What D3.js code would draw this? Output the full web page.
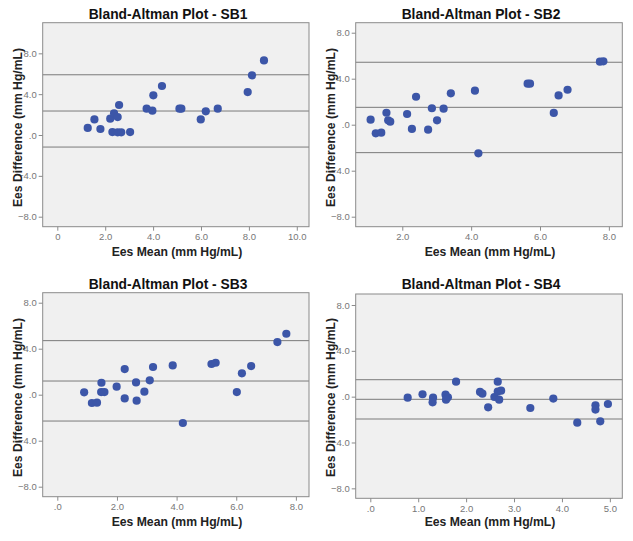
<!DOCTYPE html>
<html><head><meta charset="utf-8">
<script src="https://cdn.jsdelivr.net/npm/d3@7"></script>
<style>body{margin:0;background:#fff}svg{display:block}</style>
</head><body>
<svg id="c" width="633" height="541"></svg>
<script>
// ---- data ----
const titles = ["Bland-Altman Plot - SB1","Bland-Altman Plot - SB2","Bland-Altman Plot - SB3","Bland-Altman Plot - SB4"];
const sb1Mean = [1.27,1.55,1.80,2.30,2.21,2.37,2.52,2.58,2.52,2.67,3.04,3.73,3.97,4.01,4.37,5.10,5.18,5.99,6.20,6.70,7.95,8.13,8.63];
const sb1Diff = [0.69,1.53,0.59,0.29,1.60,2.12,1.76,2.94,0.26,0.26,0.29,2.58,2.38,3.89,4.80,2.58,2.58,1.53,2.32,2.58,4.21,5.85,7.31];
const sb2Mean = [1.08,1.23,1.39,1.54,1.59,1.65,2.14,2.28,2.40,2.75,2.86,3.01,3.20,3.41,4.11,4.21,5.64,5.71,6.40,6.54,6.80,7.74,7.84];
const sb2Diff = [0.44,-0.75,-0.69,1.04,0.38,0.26,0.93,-0.37,2.43,-0.43,1.43,0.38,1.39,2.73,2.96,-2.49,3.57,3.57,1.02,2.55,3.04,5.48,5.51];
const sb3Mean = [0.90,1.16,1.33,1.48,1.47,1.58,1.99,2.26,2.26,2.64,2.66,2.92,3.10,3.21,3.87,4.21,5.17,5.31,6.02,6.19,6.50,7.38,7.68];
const sb3Diff = [0.21,-0.72,-0.69,1.04,0.23,0.23,0.70,2.23,-0.32,1.07,-0.52,0.26,1.25,2.41,2.55,-2.46,2.67,2.78,0.23,1.86,2.49,4.58,5.30];
const sb4Mean = [0.78,1.09,1.31,1.30,1.57,1.62,1.58,1.79,2.29,2.34,2.46,2.59,2.66,2.66,2.73,2.69,3.34,3.82,4.32,4.70,4.70,4.80,4.96];
const sb4Diff = [-0.09,0.21,-0.09,-0.49,0.17,-0.06,-0.26,1.31,0.41,0.26,-0.93,-0.03,1.31,0.44,0.52,-0.26,-0.99,-0.17,-2.27,-0.75,-1.13,-2.15,-0.64];
// bias and limits of agreement: [lower, mean, upper]
const sb1Lines = [-1.18, 2.35, 5.90];
const sb2Lines = [-2.43, 1.51, 5.43];
const sb3Lines = [-2.29, 1.19, 4.70];
const sb4Lines = [-1.95, -0.23, 1.48];
const sb1XTicks = [0,2,4,6,8,10];
const sb2XTicks = [2,4,6,8];
const sb3XTicks = [0,2,4,6,8];
const sb4XTicks = [0,1,2,3,4,5];
const yTicks = [-8,-4,0,4,8];
const xLabel = "Ees Mean (mm Hg/mL)";
const yLabel = "Ees Difference (mm Hg/mL)";

// ---- layout ----
const panels = [
  {mean:sb1Mean, diff:sb1Diff, lines:sb1Lines, xt:sb1XTicks, zeroLbl:"0",
   L:42.7,R:309,T:22.7,B:226.7, xd:[-0.61,10.51], yd:[-8.98,11.0], ox:0, oy:0},
  {mean:sb2Mean, diff:sb2Diff, lines:sb2Lines, xt:sb2XTicks, zeroLbl:".0",
   L:355.7,R:622.3,T:22.7,B:226.7, xd:[0.647,8.39], yd:[-8.87,8.87], ox:313, oy:0},
  {mean:sb3Mean, diff:sb3Diff, lines:sb3Lines, xt:sb3XTicks, zeroLbl:".0",
   L:42.7,R:309,T:292.7,B:496.7, xd:[-0.49,8.44], yd:[-8.87,8.87], ox:0, oy:270},
  {mean:sb4Mean, diff:sb4Diff, lines:sb4Lines, xt:sb4XTicks, zeroLbl:".0",
   L:355.7,R:622.3,T:294,B:498.3, xd:[-0.305,5.26], yd:[-8.87,8.96], ox:313, oy:270}
];
const svg = d3.select("#c");
const font = "Arial, 'Liberation Sans', sans-serif";
const ptColor = "#3c56a8";

panels.forEach((p,i)=>{
  const x = d3.scaleLinear().domain(p.xd).range([p.L,p.R]);
  const y = d3.scaleLinear().domain(p.yd).range([p.B,p.T]);
  const g = svg.append("g");
  g.append("rect").attr("x",p.L).attr("y",p.T).attr("width",p.R-p.L).attr("height",p.B-p.T)
    .attr("fill","#f0f0f0");
  g.selectAll("line.ref").data(p.lines).join("line").attr("class","ref")
    .attr("x1",p.L).attr("x2",p.R).attr("y1",d=>y(d)).attr("y2",d=>y(d))
    .attr("stroke","#7a7a7a").attr("stroke-width",1);
  g.selectAll("circle").data(p.mean.map((m,k)=>[m,p.diff[k]])).join("circle")
    .attr("cx",d=>x(d[0])).attr("cy",d=>y(d[1])).attr("r",4.1).attr("fill",ptColor);
  g.append("rect").attr("x",p.L).attr("y",p.T).attr("width",p.R-p.L).attr("height",p.B-p.T)
    .attr("fill","none").attr("stroke","#8a8a8a").attr("stroke-width",1);
  const fmt = v => v===0 ? p.zeroLbl : d3.format(".1f")(v);
  const fmtY = v => v===0 ? ".0" : d3.format(".1f")(v);
  const xa = g.append("g").attr("transform",`translate(0,${p.B})`)
    .call(d3.axisBottom(x).tickValues(p.xt).tickFormat(fmt).tickSizeOuter(0).tickSizeInner(4).tickPadding(3));
  const ya = g.append("g").attr("transform",`translate(${p.L},0)`)
    .call(d3.axisLeft(y).tickValues(yTicks).tickFormat(fmtY).tickSizeOuter(0).tickSizeInner(4).tickPadding(2));
  [xa,ya].forEach(a=>{
    a.select(".domain").remove();
    a.selectAll(".tick line").attr("stroke","#8a8a8a");
    a.selectAll(".tick text").attr("fill","#777").style("font-family",font).style("font-size","9.5px");
  });
  g.append("text").attr("x",p.ox+168).attr("y",p.oy+19).attr("text-anchor","middle")
    .style("font-family",font).style("font-weight","bold").style("font-size","13.8px").attr("fill","#111")
    .text(titles[i]);
  g.append("text").attr("x",p.ox+177).attr("y",p.oy+256).attr("text-anchor","middle")
    .style("font-family",font).style("font-weight","bold").style("font-size","12.2px").attr("fill","#222")
    .text(xLabel);
  g.append("text").attr("transform",`translate(${p.ox+22},${p.oy+127.5}) rotate(-90)`).attr("text-anchor","middle")
    .style("font-family",font).style("font-weight","bold").style("font-size","12.2px").attr("fill","#222")
    .text(yLabel);
});
</script>
</body></html>
